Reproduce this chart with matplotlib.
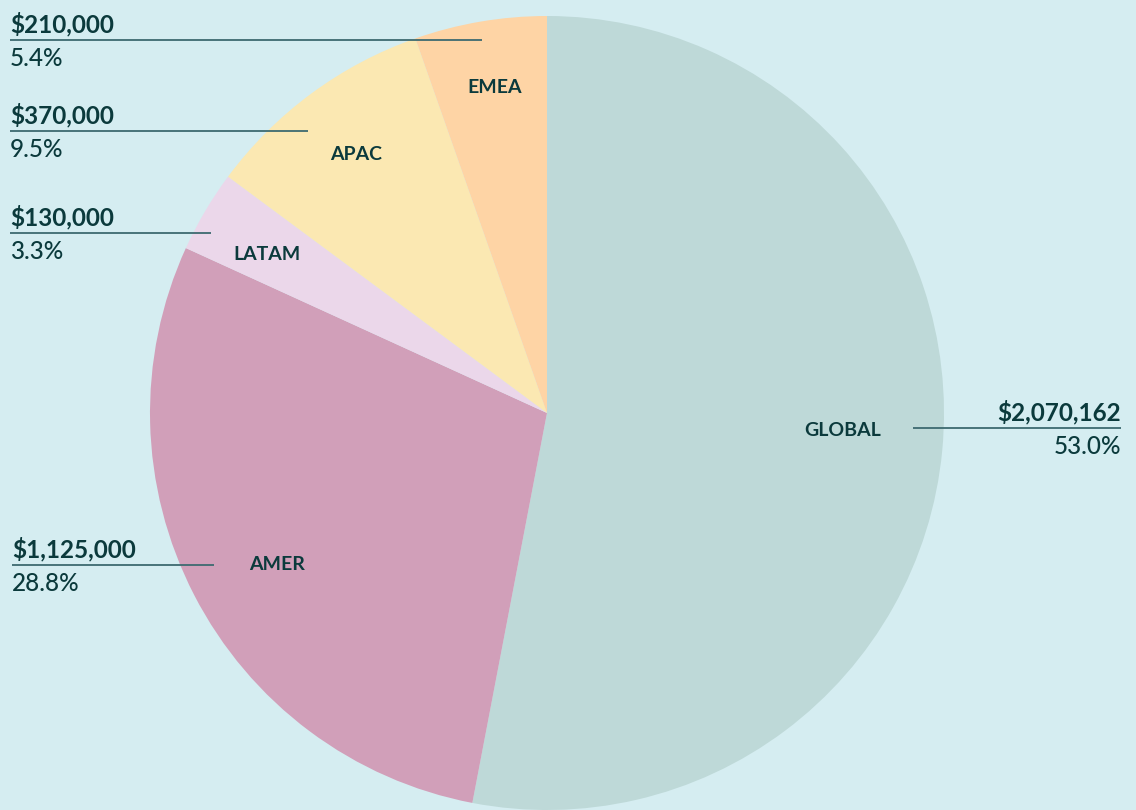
import numpy as np
import matplotlib
matplotlib.use('Agg')
from matplotlib import pyplot as plt

# data
regions = ['GLOBAL', 'AMER', 'LATAM', 'APAC', 'EMEA']
amounts = [2070162, 1125000, 130000, 370000, 210000]
colors = ['#BED9D8', '#D19FB9', '#EBD7EA', '#FBE8B2', '#FED4A5']

W, H = 1136, 810
bg = '#D5EDF1'
ink = '#0B3A3C'
plt.rcParams['font.family'] = ['Lato', 'DejaVu Sans']

fig = plt.figure(figsize=(W / 100, H / 100), dpi=100, facecolor=bg)
ax = fig.add_axes([0, 0, 1, 1])
ax.set_facecolor(bg)

cx, cy, r = 547, H - 413, 397
wedges, _ = ax.pie(amounts, colors=colors, startangle=90, counterclock=False,
                   center=(cx, cy), radius=r, frame=True,
                   wedgeprops=dict(linewidth=0))
ax.set_xlim(0, W)
ax.set_ylim(0, H)
ax.set_aspect('equal')
ax.axis('off')

# labels inside slices (distance as fraction of radius, small angle nudge)
place = {'GLOBAL': (0.745, 2.0), 'AMER': (0.78, 2.0), 'LATAM': (0.81, 1.0),
         'APAC': (0.81, 0.0), 'EMEA': (0.83, -0.5)}
for w, name in zip(wedges, regions):
    f, nudge = place[name]
    mid = np.deg2rad((w.theta1 + w.theta2) / 2 + nudge)
    ax.text(cx + f * r * np.cos(mid), cy + f * r * np.sin(mid), name,
            ha='center', va='center', fontsize=14, fontweight='bold', color=ink)

# leader lines: (x0, x1, y, text x, align)
leaders = {
    'EMEA': (10, 482, 40, 10, 'left'),
    'APAC': (10, 308, 131, 10, 'left'),
    'LATAM': (10, 211, 233, 10, 'left'),
    'AMER': (12, 214, 565, 12, 'left'),
    'GLOBAL': (913, 1121, 428, 1121, 'right'),
}
total = sum(amounts)
for name, amt in zip(regions, amounts):
    x0, x1, y, tx, ha = leaders[name]
    ax.plot([x0, x1], [H - y, H - y], color='#3D6A70', lw=1.3, solid_capstyle='butt')
    ax.text(tx, H - y + 8, '${:,}'.format(amt), ha=ha, va='baseline',
            fontsize=17.5, fontweight='bold', color=ink)
    ax.text(tx, H - y - 7, '{:.1f}%'.format(amt / total * 100), ha=ha, va='top',
            fontsize=17.5, fontweight='medium', color=ink)

fig.savefig('out.png', dpi=100, facecolor=bg)
